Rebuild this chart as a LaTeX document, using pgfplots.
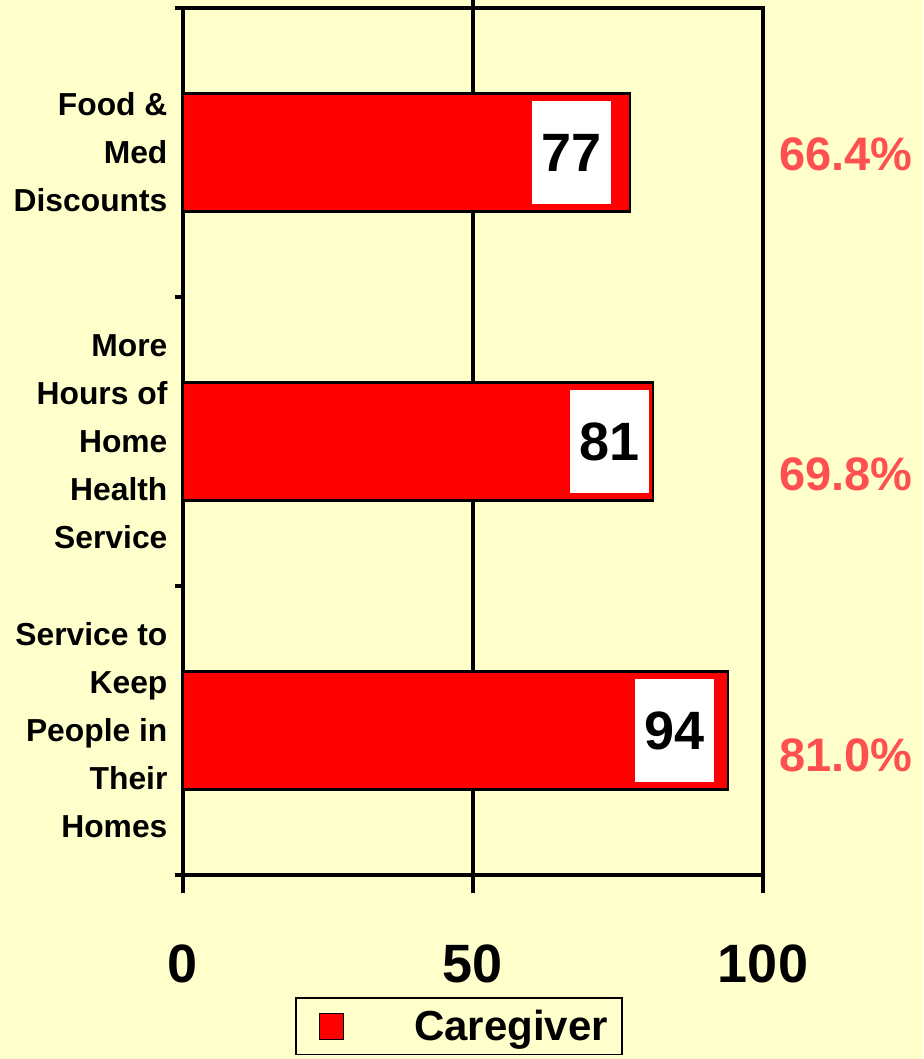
\documentclass[border=0pt]{standalone}
\usepackage{pgfplots}
\pgfplotsset{compat=1.18}
\usepackage{pgfplotstable}
\usepackage{fontspec}
\setmainfont{Liberation Sans}
\definecolor{bgyellow}{HTML}{FFFFCC}
\definecolor{pctred}{HTML}{FF5050}
\pgfplotstableread{
y value shift
0 94 -53.5
1 81 -43.5
2 77 -58.5
}\datatable
\begin{document}
\begin{tikzpicture}[x=1pt,y=1pt]
\path[use as bounding box, fill=bgyellow] (0,0) rectangle (923,1059);
\begin{axis}[
  at={(183pt,184pt)}, anchor=south west,
  scale only axis, width=580pt, height=867pt,
  every axis/.append style={line width=3.2pt},
  xbar, bar width=118pt,
  xmin=0, xmax=100, ymin=-0.5, ymax=2.5,
  clip=false,
  axis line style={line width=3.2pt},
  xtick={0,50,100},
  tick align=outside,
  xtick pos=bottom, ytick pos=left,
  major tick style={line width=3.2pt, black},
  minor tick style={line width=3.2pt, black},
  major tick length=18pt,
  minor tick length=8pt,
  ytick={0,1,2},
  major y tick style={draw=none},
  minor ytick={-0.5,0.5,1.5,2.5},
  yticklabels={{Service to\\Keep\\People in\\Their\\Homes},{More\\Hours of\\Home\\Health\\Service},{Food \&\\Med\\Discounts}},
  yticklabel style={align=right, font=\bfseries\fontsize{31.8}{48}\selectfont, inner sep=0pt, xshift=4pt},
  xticklabel style={font=\bfseries\fontsize{54}{60}\selectfont, inner sep=0pt, yshift=-50pt},
  /pgf/number format/assume math mode=true,
  visualization depends on={\thisrow{shift} \as \labshift},
  nodes near coords,
  every node near coord/.append style={anchor=center, xshift=\labshift pt, fill=white, minimum width=79pt, minimum height=103pt, inner sep=0pt, font=\bfseries\fontsize{54}{60}\selectfont, text=black},
  legend style={at={(0.476,0)}, anchor=north, yshift=-122pt, draw=black, line width=1.5pt, fill=bgyellow, font=\bfseries\fontsize{42}{46}\selectfont, inner xsep=12pt, inner ysep=10.5pt},
  legend image code/.code={\draw[fill=red,draw=black,line width=1.2pt] (0pt,-13pt) rectangle (24pt,13pt); \path[draw=none,fill=none] (-11pt,0pt) -- (93pt,0pt);},
]
\draw[line width=3.2pt] (axis cs:50,2.5) ++(0,8pt) -- (axis cs:50,-0.5) -- ++(0,-40pt);
\addplot[fill=red, draw=black, line width=2.2pt] table[x=value, y=y] {\datatable};
\addlegendentry{Caregiver}
\node[text=pctred, font=\bfseries\fontsize{47}{50}\selectfont] at (axis cs:114.3,1.995) {66.4\%};
\node[text=pctred, font=\bfseries\fontsize{47}{50}\selectfont] at (axis cs:114.3,0.8875) {69.8\%};
\node[text=pctred, font=\bfseries\fontsize{47}{50}\selectfont] at (axis cs:114.3,-0.085) {81.0\%};
\end{axis}
\end{tikzpicture}
\end{document}
